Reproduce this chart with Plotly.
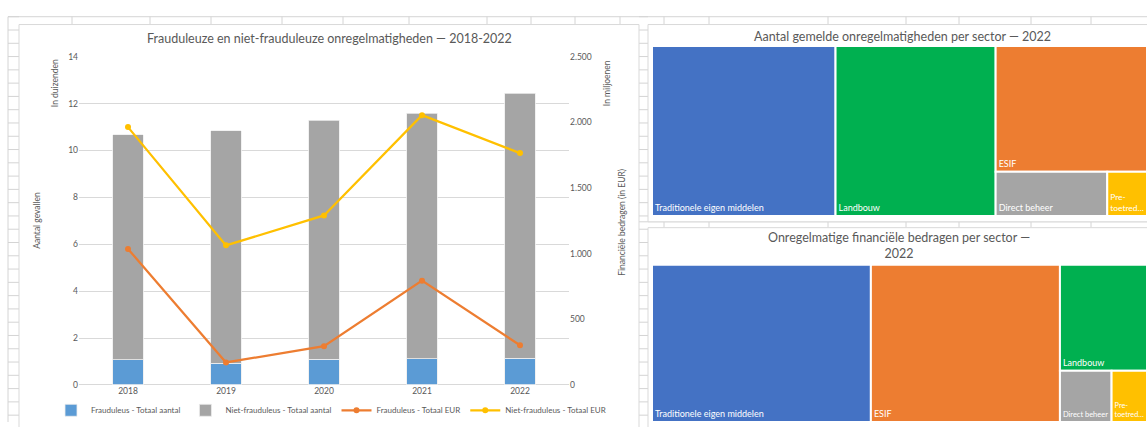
import plotly.graph_objects as go

W, H = 1147, 427


def px(x):
    return x / W


def py(y):
    return 1 - y / H


# ---------------- data ----------------
years = ["2018", "2019", "2020", "2021", "2022"]
fraud_count = [1.08, 0.93, 1.10, 1.12, 1.13]          # in duizenden
nonfraud_count = [9.60, 9.92, 10.20, 10.48, 11.32]    # in duizenden
fraud_eur = [1036, 171, 295, 794, 302]                # in miljoenen EUR
nonfraud_eur = [1964, 1063, 1291, 2055, 1766]         # in miljoenen EUR

sectors = ["Traditionele eigen middelen", "Landbouw", "ESIF", "Direct beheer", "Pre-toetreding"]
sector_text = ["Traditionele eigen middelen", "Landbouw", "ESIF", "Direct beheer", "Pre-<br>toetred…"]
count_2022 = [4620, 4030, 2820, 730, 260]
amount_2022 = [910, 244, 786, 70, 48]

sector_colors = ["#4472C4", "#00B050", "#ED7D31", "#A5A5A5", "#FFC000"]

FONT = "Lato"
GREY_TXT = "#595959"
GRID = "#D9D9D9"

fig = go.Figure()

# ---------------- combo chart ----------------
fig.add_trace(go.Bar(
    x=years, y=fraud_count, name="Frauduleus - Totaal aantal",
    marker=dict(color="#5B9BD5", line=dict(color="#EDEDED", width=0.8)),
    xaxis="x", yaxis="y",
))
fig.add_trace(go.Bar(
    x=years, y=nonfraud_count, name="Niet-frauduleus - Totaal aantal",
    marker=dict(color="#A5A5A5", line=dict(color="#EDEDED", width=0.8)),
    xaxis="x", yaxis="y",
))
fig.add_trace(go.Scatter(
    x=years, y=fraud_eur, name="Frauduleus - Totaal EUR", mode="lines+markers",
    line=dict(color="#ED7D31", width=2.25), marker=dict(color="#ED7D31", size=6),
    xaxis="x", yaxis="y2",
))
fig.add_trace(go.Scatter(
    x=years, y=nonfraud_eur, name="Niet-frauduleus - Totaal EUR", mode="lines+markers",
    line=dict(color="#FFC000", width=2.25), marker=dict(color="#FFC000", size=6),
    xaxis="x", yaxis="y2",
))

# ---------------- treemaps ----------------
tm_common = dict(
    parents=[""] * len(sectors), texttemplate="%{text}", textposition="bottom left",
    textfont=dict(color="white", size=9, family=FONT),
    pathbar=dict(visible=False), sort=True, opacity=1,
    tiling=dict(packing="squarify", pad=0, squarifyratio=1),
)
fig.add_trace(go.Treemap(
    labels=sectors, values=count_2022, text=sector_text,
    marker=dict(colors=sector_colors, line=dict(color="white", width=2), pad=dict(t=0, l=0, r=0, b=0)),
    domain=dict(x=[px(652), 1.0], y=[py(216), py(42)]),
    name="aantal", **tm_common,
))
fig.add_trace(go.Treemap(
    labels=sectors, values=amount_2022, text=sector_text,
    marker=dict(colors=sector_colors, line=dict(color="white", width=2), pad=dict(t=0, l=0, r=0, b=0)),
    domain=dict(x=[px(652), 1.0], y=[0.0, py(266)]),
    name="bedragen", **tm_common,
))

# ---------------- decoration: spreadsheet grid + chart boxes ----------------
shapes = []
line_style = dict(color="#D4D4D4", width=1)
shapes.append(dict(type="line", xref="paper", yref="paper", x0=px(8), x1=1.0, y0=py(12), y1=py(12), line=line_style, layer="below"))
for xv in [72, 150, 211, 282, 343, 409, 487, 531, 575, 620, 664, 709, 828, 906, 959, 1031, 1091]:
    shapes.append(dict(type="line", xref="paper", yref="paper", x0=px(xv), x1=px(xv), y0=py(12), y1=py(20), line=line_style, layer="below"))
shapes.append(dict(type="line", xref="paper", yref="paper", x0=px(8), x1=px(8), y0=0, y1=py(12), line=line_style, layer="below"))
row = 12.0
while row < H:
    shapes.append(dict(type="line", xref="paper", yref="paper", x0=px(8), x1=px(19), y0=py(row), y1=py(row), line=line_style, layer="below"))
    shapes.append(dict(type="line", xref="paper", yref="paper", x0=px(639), x1=px(648), y0=py(row), y1=py(row), line=line_style, layer="below"))
    row += 13.6
shapes.append(dict(type="line", xref="paper", yref="paper", x0=px(639), x1=1.0, y0=py(222), y1=py(222), line=line_style, layer="below"))
for xv in [664, 709, 828, 906, 959, 1031, 1091]:
    shapes.append(dict(type="line", xref="paper", yref="paper", x0=px(xv), x1=px(xv), y0=py(222), y1=py(228), line=line_style, layer="below"))
box = dict(color="#D9D9D9", width=1)
shapes.append(dict(type="rect", xref="paper", yref="paper", x0=px(19), x1=px(639), y0=-0.05, y1=py(20), line=box, fillcolor="white", layer="below"))
shapes.append(dict(type="rect", xref="paper", yref="paper", x0=px(648), x1=1.05, y0=py(222), y1=py(20), line=box, fillcolor="white", layer="below"))
shapes.append(dict(type="rect", xref="paper", yref="paper", x0=px(648), x1=1.05, y0=-0.05, y1=py(228), line=box, fillcolor="white", layer="below"))


def ann(text, x, y, size, angle=0):
    return dict(text=text, x=px(x), y=py(y), xref="paper", yref="paper", showarrow=False,
                xanchor="center", yanchor="middle", textangle=angle,
                font=dict(family=FONT, size=size, color=GREY_TXT))


annotations = [
    ann("Frauduleuze en niet-frauduleuze onregelmatigheden — 2018-2022", 329, 34, 12.5),
    ann("In duizenden", 55, 80, 8.5, -90),
    ann("Aantal gevallen", 37, 221, 8.5, -90),
    ann("In miljoenen", 607, 80, 8.5, -90),
    ann("Financiële bedragen (in EUR)", 622, 223, 8.5, -90),
    ann("Aantal gemelde onregelmatigheden per sector — 2022", 902, 32, 12.5),
    ann("Onregelmatige financiële bedragen per sector —<br>2022", 899, 246, 12.5),
]

fig.update_layout(
    width=W, height=H, margin=dict(l=0, r=0, t=0, b=0),
    paper_bgcolor="white", plot_bgcolor="rgba(0,0,0,0)",
    separators=",.",
    font=dict(family=FONT, color=GREY_TXT, size=9),
    barmode="stack", bargap=0.69,
    xaxis=dict(domain=[px(79), px(569)], type="category", showgrid=False, showline=False,
               ticks="", tickfont=dict(size=8.5, color=GREY_TXT), anchor="y"),
    yaxis=dict(domain=[py(389), py(53)], range=[0, 14], dtick=2, showgrid=True, gridcolor=GRID,
               gridwidth=1, zeroline=True, zerolinecolor=GRID, zerolinewidth=1, showline=False,
               ticks="", tickfont=dict(size=8.5, color=GREY_TXT), anchor="x"),
    yaxis2=dict(overlaying="y", side="right", range=[0, 2500], tickvals=[0, 500, 1000, 1500, 2000, 2500],
                tickformat=",d", showgrid=False, zeroline=False, showline=False, ticks="",
                tickfont=dict(size=8.5, color=GREY_TXT), anchor="x"),
    legend=dict(orientation="h", x=px(331), xanchor="center", y=py(415), yanchor="middle",
                font=dict(size=8, color=GREY_TXT), bgcolor="rgba(0,0,0,0)", itemwidth=30,
                traceorder="normal"),
    shapes=shapes,
    annotations=annotations,
)

fig.write_html("out.html")
